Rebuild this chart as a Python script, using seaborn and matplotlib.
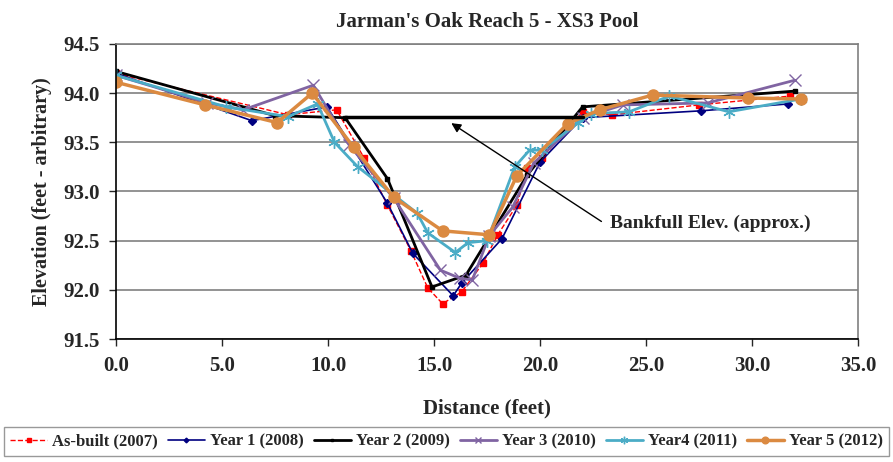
import matplotlib
matplotlib.use("Agg")
import matplotlib.pyplot as plt
import seaborn as sns
from matplotlib.ticker import FormatStrFormatter, MultipleLocator

# Survey data (distance in feet, elevation in feet)
asbuilt_x = [0, 8.1, 10.4, 11.7, 12.8, 13.9, 14.7, 15.4, 16.3, 17.3, 18.0, 18.9, 19.4, 20.1, 22.0, 23.4, 27.5, 31.8]
asbuilt_y = [94.20, 93.78, 93.83, 93.34, 92.86, 92.40, 92.02, 91.86, 91.98, 92.27, 92.56, 92.86, 93.24, 93.34, 93.81, 93.78, 93.88, 93.97]

year1_x = [0, 6.4, 9.95, 12.8, 14.0, 15.9, 16.3, 18.2, 20.0, 22.0, 27.6, 31.7]
year1_y = [94.20, 93.72, 93.86, 92.88, 92.37, 91.94, 92.07, 92.52, 93.30, 93.75, 93.82, 93.89]

year2_x = [0, 7.5, 10.8, 12.8, 14.9, 16.5, 19.4, 22.0, 32.0]
year2_y = [94.22, 93.77, 93.75, 93.13, 92.03, 92.15, 93.17, 93.86, 94.02]

year3_x = [0, 4.3, 6.0, 9.3, 11.0, 13.1, 15.3, 16.2, 16.8, 17.6, 18.7, 19.7, 22.0, 23.9, 27.9, 32.0]
year3_y = [94.18, 93.90, 93.83, 94.08, 93.47, 92.93, 92.20, 92.12, 92.10, 92.55, 92.84, 93.29, 93.75, 93.88, 93.90, 94.13]

year4_x = [0, 5.2, 8.1, 9.5, 10.3, 11.4, 14.2, 14.7, 16.0, 16.6, 17.5, 18.8, 19.5, 20.1, 21.8, 22.4, 24.2, 26.1, 28.9, 32.3]
year4_y = [94.18, 93.86, 93.76, 93.89, 93.50, 93.25, 92.78, 92.58, 92.38, 92.48, 92.50, 93.25, 93.42, 93.42, 93.70, 93.79, 93.81, 93.97, 93.81, 93.94]

year5_x = [0, 4.2, 7.6, 9.25, 11.2, 13.1, 15.4, 17.6, 18.9, 21.3, 22.8, 25.3, 29.8, 32.3]
year5_y = [94.11, 93.88, 93.70, 94.00, 93.45, 92.94, 92.60, 92.56, 93.16, 93.69, 93.83, 93.98, 93.95, 93.94]

bankfull_x = [10.8, 22.0]
bankfull_elev = 93.76
arrow_tail = (23.0, 92.68)
arrow_head = (15.7, 93.71)

sns.set_style("white")
plt.rcParams['font.family'] = ['Liberation Serif', 'DejaVu Serif']
plt.rcParams['font.weight'] = 'bold'

fig = plt.figure(figsize=(8.93, 4.62), dpi=100)
ax = fig.add_axes([0.130, 0.266, 0.831, 0.639])

series = [
    ("As-built (2007)", asbuilt_x, asbuilt_y, dict(color="#FF0000", marker="s", markersize=4, lw=1, linestyle="--")),
    ("Year 1 (2008)", year1_x, year1_y, dict(color="#000080", marker="D", markersize=4, lw=1.2)),
    ("Year 2 (2009)", year2_x, year2_y, dict(color="black", marker="s", markersize=3.5, lw=2)),
    ("Year 3 (2010)", year3_x, year3_y, dict(color="#8064A2", marker="x", markersize=8, lw=2)),
    ("Year4 (2011)", year4_x, year4_y, dict(color="#4BACC6", marker=(6, 2, 0), markersize=9, lw=2)),
    ("Year 5 (2012)", year5_x, year5_y, dict(color="#DB8A41", marker="o", markersize=8, lw=2.5)),
]

for label, xs, ys, style in series:
    sns.lineplot(x=xs, y=ys, ax=ax, label=label, estimator=None, sort=False,
                 markeredgecolor=style["color"], markeredgewidth=1, **style)

# bankfull elevation line and arrow
ax.plot(bankfull_x, [bankfull_elev, bankfull_elev], color="black", lw=2.5)
ax.annotate("", xy=arrow_head, xytext=arrow_tail,
            arrowprops=dict(arrowstyle="-|>", color="black", lw=1, mutation_scale=14))
ax.text(arrow_tail[0] + 0.3, arrow_tail[1], "Bankfull Elev. (approx.)",
        fontsize=14, fontweight="bold", va="center", ha="left")

ax.set_xlim(0, 35)
ax.set_ylim(91.5, 94.5)
ax.xaxis.set_major_locator(MultipleLocator(5))
ax.yaxis.set_major_locator(MultipleLocator(0.5))
ax.xaxis.set_major_formatter(FormatStrFormatter("%.1f"))
ax.yaxis.set_major_formatter(FormatStrFormatter("%.1f"))
ax.tick_params(axis="both", labelsize=15, direction="out", length=5, width=1, left=True, bottom=True, pad=7)
ax.grid(axis="y", color="#808080", lw=1.2)
ax.set_axisbelow(True)

for side in ["top", "right"]:
    ax.spines[side].set_color("#808080")
    ax.spines[side].set_linewidth(1.2)
for side in ["left", "bottom"]:
    ax.spines[side].set_color("black")
    ax.spines[side].set_linewidth(1.2)

ax.set_title("Jarman's Oak Reach 5 - XS3 Pool", fontsize=15, fontweight="bold", pad=12)
ax.set_xlabel("Distance (feet)", fontsize=15, fontweight="bold", labelpad=16)
ax.set_ylabel("Elevation (feet - arbitrary)", fontsize=14.5, fontweight="bold", labelpad=8)

ax.get_legend().remove()
handles, labels = ax.get_legend_handles_labels()
leg = fig.legend(handles[:6], labels[:6], loc="lower left", bbox_to_anchor=(0.004, 0.012, 0.992, 0.07),
                 mode="expand", borderaxespad=0, ncol=6, fontsize=12, frameon=True, fancybox=False,
                 edgecolor="#808080", markerscale=0.6, handlelength=2.2, handletextpad=0.3,
                 columnspacing=0.8, borderpad=0.4)
leg.get_frame().set_linewidth(1)

fig.savefig("out.png", dpi=100)
